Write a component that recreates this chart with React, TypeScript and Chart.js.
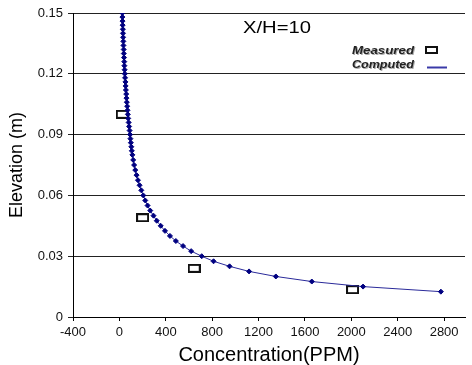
import React, { useEffect, useRef } from 'react';
import { Chart, registerables } from 'chart.js';
Chart.register(...registerables);

const COMPUTED_ELEV = [
  0.0125, 0.015, 0.0175, 0.02, 0.0225, 0.025, 0.0275, 0.03, 0.0325, 0.035,
  0.0375, 0.04, 0.0425, 0.045, 0.0475, 0.05, 0.0525, 0.055, 0.0575, 0.06,
  0.0625, 0.065, 0.0675, 0.07, 0.0725, 0.075, 0.0775, 0.08,
  0.082, 0.084, 0.086, 0.088, 0.09, 0.092, 0.094, 0.096, 0.098, 0.1,
  0.102, 0.104, 0.106, 0.108, 0.11, 0.112, 0.114, 0.116, 0.118, 0.12,
  0.122, 0.124, 0.126, 0.128, 0.13, 0.132, 0.134, 0.136, 0.138, 0.14,
  0.142, 0.144, 0.146, 0.148, 0.15,
];
const COMPUTED_CONC = [
  2772, 2101, 1659, 1349, 1118, 950, 812, 710, 619, 549,
  487, 436, 393, 356, 322, 294, 266, 243, 223, 206,
  189, 174, 160, 148, 137, 127, 119, 112,
  107, 103, 99, 95, 92, 88, 84, 80, 76, 73,
  70, 67, 64, 61, 59, 56, 54, 52, 49, 47,
  45, 43, 42, 40, 38, 37, 35, 34, 32, 31,
  30, 28, 27, 26, 25,
];
const MEASURED_CONC = [25, 200, 645, 2010];
const MEASURED_ELEV = [0.1, 0.049, 0.024, 0.0135];
const X_TICKS = [-400, 0, 400, 800, 1200, 1600, 2000, 2400, 2800];
const Y_TICKS = [0, 0.03, 0.06, 0.09, 0.12, 0.15];
const PLOT_LABEL = 'X/H=10';
const SERIES_NAMES = ['Measured', 'Computed'];
const X_TITLE = 'Concentration(PPM)';
const Y_TITLE = 'Elevation (m)';

const FONT = '"Liberation Sans", Arial, sans-serif';

function makeSquare(): HTMLCanvasElement {
  const c = document.createElement('canvas');
  c.width = 13;
  c.height = 9;
  const g = c.getContext('2d')!;
  g.fillStyle = '#fff';
  g.fillRect(1, 1, 11, 7);
  g.strokeStyle = '#111';
  g.lineWidth = 2;
  g.strokeRect(1, 1, 11, 7);
  return c;
}

function stretchText(ctx: CanvasRenderingContext2D, text: string, x: number, y: number, w: number, align: 'center' | 'right') {
  const m = ctx.measureText(text).width;
  const s = w / m;
  ctx.save();
  ctx.translate(x, y);
  ctx.scale(s, 1);
  ctx.textAlign = align;
  ctx.textBaseline = 'middle';
  ctx.fillText(text, 0, 0);
  ctx.restore();
}

const overlay = {
  id: 'overlay',
  afterDraw(chart: any) {
    const ctx: CanvasRenderingContext2D = chart.ctx;
    ctx.save();
    ctx.fillStyle = '#000';
    ctx.font = `17px ${FONT}`;
    stretchText(ctx, PLOT_LABEL, 277, 28, 68, 'center');
    ctx.font = `italic bold 10px ${FONT}`;
    ctx.fillStyle = '#aaa';
    stretchText(ctx, SERIES_NAMES[0], 415, 52, 62, 'right');
    stretchText(ctx, SERIES_NAMES[1], 415, 66, 62, 'right');
    ctx.fillStyle = '#222';
    stretchText(ctx, SERIES_NAMES[0], 414, 51, 62, 'right');
    stretchText(ctx, SERIES_NAMES[1], 414, 65, 62, 'right');
    ctx.strokeStyle = '#111';
    ctx.lineWidth = 2;
    ctx.strokeRect(426, 47, 11, 6);
    ctx.strokeStyle = '#3a3aa8';
    ctx.lineWidth = 2;
    ctx.beginPath();
    ctx.moveTo(427, 67.5);
    ctx.lineTo(447, 67.5);
    ctx.stroke();
    ctx.restore();
  },
};

export default function App() {
  const ref = useRef<HTMLCanvasElement>(null);
  useEffect(() => {
    const square = makeSquare();
    const chart = new Chart(ref.current!, {
      type: 'scatter',
      data: {
        datasets: [
          {
            label: SERIES_NAMES[1],
            data: COMPUTED_CONC.map((x, i) => ({ x, y: COMPUTED_ELEV[i] })),
            showLine: true,
            borderColor: '#2a2a9a',
            borderWidth: 1,
            pointStyle: 'rectRot',
            pointRadius: 2.5,
            pointBorderWidth: 1,
            pointBackgroundColor: '#000080',
            pointBorderColor: '#000080',
            order: 0,
          },
          {
            label: SERIES_NAMES[0],
            data: MEASURED_CONC.map((x, i) => ({ x, y: MEASURED_ELEV[i] })),
            showLine: false,
            pointStyle: square as any,
            pointRadius: 6,
            order: 1,
          },
        ],
      },
      options: {
        responsive: false,
        animation: false,
        layout: { padding: { left: 0, top: 13, right: 1, bottom: 0 } },
        plugins: { legend: { display: false }, tooltip: { enabled: false } },
        scales: {
          x: {
            type: 'linear',
            min: -400,
            max: 2980,
            afterBuildTicks: (s: any) => {
              s.ticks = X_TICKS.map((v) => ({ value: v }));
            },
            afterFit: (s: any) => {
              s.height = 48;
            },
            grid: { drawOnChartArea: false, drawTicks: true, tickLength: 4, color: '#000' },
            border: { display: true, color: '#000', width: 1 },
            ticks: {
              color: '#111',
              font: { family: FONT, size: 13 },
              padding: 4,
              maxRotation: 0,
              autoSkip: false,
              callback: (v: any) => String(v),
            },
            title: {
              display: true,
              text: X_TITLE,
              color: '#000',
              font: { family: FONT, size: 20, lineHeight: 1 },
              padding: { top: 0, bottom: 0 },
            },
          },
          y: {
            type: 'linear',
            min: 0,
            max: 0.15,
            afterBuildTicks: (s: any) => {
              s.ticks = Y_TICKS.map((v) => ({ value: v }));
            },
            afterFit: (s: any) => {
              s.width = 73;
            },
            grid: { drawOnChartArea: true, drawTicks: true, tickLength: 5, color: '#222' },
            border: { display: true, color: '#000', width: 1 },
            ticks: {
              color: '#111',
              font: { family: FONT, size: 13 },
              padding: 5,
              autoSkip: false,
              callback: (v: any) => (v === 0 ? '0' : Number(v).toFixed(2)),
            },
            title: {
              display: true,
              text: Y_TITLE,
              color: '#000',
              font: { family: FONT, size: 18, lineHeight: 1 },
              padding: { top: 8, bottom: 0 },
            },
          },
        },
      },
      plugins: [overlay],
    });
    return () => chart.destroy();
  }, []);
  return (
    <div style={{ position: 'absolute', left: 0, top: 0, width: 472, height: 365, background: '#fff' }}>
      <canvas ref={ref} width={472} height={365} style={{ display: 'block' }} />
    </div>
  );
}
